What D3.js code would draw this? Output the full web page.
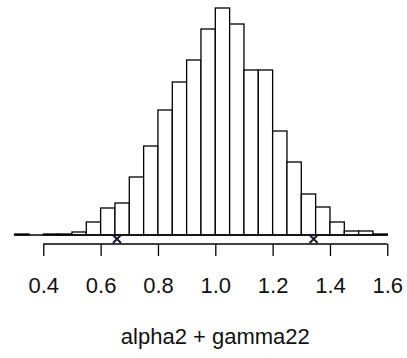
<!DOCTYPE html>
<html lang="en">
  <head>
    <meta charset="UTF-8" />
    <title>alpha2 + gamma22</title>
    <script src="https://d3js.org/d3.v7.min.js"></script>
    <style>
      body { margin: 0; background: #fff; }
      .bar { fill: #fff; stroke: #000; stroke-width: 1.3px; }
      .axis text { font-family: "Liberation Sans", Arial, sans-serif; font-size: 22px; fill: #111; }
      .axis path, .axis line { stroke: #000; stroke-width: 1.3px; }
      .xlab { font-family: "Liberation Sans", Arial, sans-serif; font-size: 22px; fill: #111; }
      .mark { fill: none; stroke: #1a1a2a; stroke-width: 2px; }
    </style>
  </head>
  <body>
    <svg id="hist" width="407" height="358"></svg>
    <script>
      // bin edges start at 0.30, width 0.05
      const binStart = [0.30, 0.35, 0.40, 0.45, 0.50, 0.55, 0.60, 0.65, 0.70, 0.75, 0.80, 0.85, 0.90,
                        0.95, 1.00, 1.05, 1.10, 1.15, 1.20, 1.25, 1.30, 1.35, 1.40, 1.45, 1.50, 1.55];
      const counts = [1, 0, 1, 1, 3, 13, 27, 32, 58, 89, 125, 153, 175,
                      206, 227, 211, 165, 165, 104, 73, 41, 28, 13, 4, 4, 1];
      const binWidth = 0.05;
      const ticks = [0.4, 0.6, 0.8, 1.0, 1.2, 1.4, 1.6];
      const interval = [0.657, 1.343];

      const svg = d3.select("#hist");
      const x = d3.scaleLinear().domain([0.4, 1.6]).range([43.3, 387.3]);
      const y = d3.scaleLinear().domain([0, 227]).range([235, 8]);

      const bins = binStart.map((b, i) => ({ x0: b, x1: b + binWidth, n: counts[i] }));

      svg.selectAll("rect.bar")
        .data(bins)
        .join("rect")
        .attr("class", "bar")
        .attr("x", d => x(d.x0))
        .attr("width", d => x(d.x1) - x(d.x0))
        .attr("y", d => y(d.n))
        .attr("height", d => y(0) - y(d.n));

      // baseline under the bars
      svg.append("line")
        .attr("x1", x(0.30)).attr("x2", x(1.60))
        .attr("y1", y(0)).attr("y2", y(0))
        .attr("stroke", "#000").attr("stroke-width", 1.5);

      const axis = svg.append("g")
        .attr("class", "axis")
        .attr("transform", "translate(0,244)")
        .call(d3.axisBottom(x).tickValues(ticks).tickFormat(d3.format(".1f")).tickSize(12).tickPadding(21).tickSizeOuter(0));
      axis.select(".domain").attr("d", `M${x(0.4)},0H${x(1.6)}`);

      // interval marks (x symbols)
      const s = 4;
      svg.selectAll("path.mark")
        .data(interval)
        .join("path")
        .attr("class", "mark")
        .attr("d", d => {
          const cx = x(d), cy = 239;
          return `M${cx - s},${cy - s}L${cx + s},${cy + s}M${cx - s},${cy + s}L${cx + s},${cy - s}`;
        });

      svg.append("text")
        .attr("class", "xlab")
        .attr("x", x(1.0))
        .attr("y", 344)
        .attr("text-anchor", "middle")
        .text("alpha2 + gamma22");
    </script>
  </body>
</html>
